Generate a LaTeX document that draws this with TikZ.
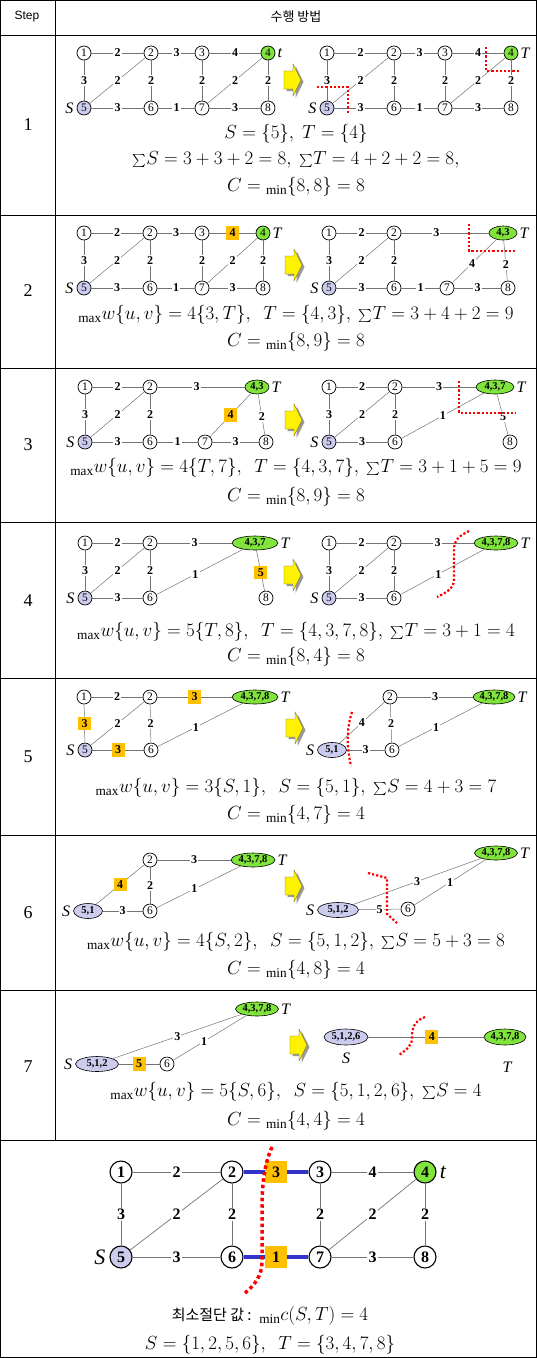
\RequirePackage{fix-cm}
\documentclass[tikz,border=0pt]{standalone}
\usepackage{fontspec}
\setmainfont{Liberation Serif}
\newfontfamily\kr{Noto Sans CJK KR}
\newfontfamily\hsans{Liberation Sans}
\usetikzlibrary{shapes.geometric}
\definecolor{lav}{RGB}{204,204,238}
\definecolor{grn}{RGB}{128,228,60}
\definecolor{orb}{RGB}{255,192,0}
\definecolor{cutblue}{RGB}{51,51,204}
\newcommand\bsum{\mathord{\raisebox{-0.12em}{\scalebox{1.3}{$\sum$}}}}
\newcommand\blkarr[2]{\begin{scope}[shift={(#1,#2)}]
 \fill[black!40] (-5.5,-7) -- (3.5,-7) -- (3.5,-14) -- (11.5,2) -- (3.5,18) -- (3.5,11) -- (-5.5,11) -- cycle;
 \filldraw[fill=yellow,draw=olive!70!black,line width=0.4pt] (-8,-9) -- (1,-9) -- (1,-16) -- (9,0) -- (1,16) -- (1,9) -- (-8,9) -- cycle;
\end{scope}}
\tikzset{
 v/.style={circle,draw,line width=0.7pt,fill=white,minimum size=14pt,inner sep=0pt,font=\fontsize{11.5}{10}\selectfont},
 vs/.style={v,fill=lav},
 vt/.style={v,fill=grn},
 el/.style={ellipse,draw,line width=0.6pt,fill=grn,inner sep=0pt,minimum height=14pt,font=\fontsize{10.5}{10}\selectfont\bfseries},
 els/.style={el,fill=lav},
 lab/.style={fill=white,inner sep=1.2pt,font=\fontsize{12}{10}\selectfont\bfseries},
 ob/.style={fill=orb,inner sep=0pt,minimum width=13pt,minimum height=13.5pt,font=\fontsize{12}{10}\selectfont\bfseries},
 e/.style={draw=black!55,line width=0.5pt},
 cut/.style={draw=red,line width=2.2pt,dash pattern=on 2.2pt off 2pt},
 st/.style={font=\fontsize{16}{16}\selectfont\itshape,inner sep=3pt},
 tx/.style={font=\fontsize{19}{21}\selectfont,inner sep=0pt},
 num/.style={font=\fontsize{18}{18}\selectfont},
 big/.style={circle,draw,line width=1.1pt,fill=white,minimum size=22pt,inner sep=0pt,font=\fontsize{16}{16}\selectfont\bfseries},
 blab/.style={fill=white,inner sep=1.5pt,font=\fontsize{16}{16}\selectfont\bfseries},
 bob/.style={fill=orb,inner sep=0pt,minimum size=22pt,font=\fontsize{16}{16}\selectfont\bfseries},
}
\begin{document}
\begin{tikzpicture}[x=1pt,y=-1pt]
\useasboundingbox (0,0) rectangle (537,1358);
% table
\draw[line width=0.8pt] (0.5,0.5) rectangle (536.5,1357.5);
\draw[line width=0.8pt] (55,0.5) -- (55,1140);
\foreach \yy in {35,215,368,522,678,835,990,1140} \draw[line width=0.8pt] (0.5,\yy) -- (536.5,\yy);
\node[font=\hsans\fontsize{12}{12}\selectfont] (hstep) at (27,17) {Step};
\node[font=\kr\fontsize{13}{13}\selectfont] (hmeth) at (296,17) {수행 방법};
\node[num] (n1) at (28,125) {1};
\node[num] (n2) at (28,291) {2};
\node[num] (n3) at (28,445) {3};
\node[num] (n4) at (28,601) {4};
\node[num] (n5) at (28,757) {5};
\node[num] (n6) at (28,913) {6};
\node[num] (n7) at (28,1067) {7};

% ===== Step 1 left
\node[v] (A1) at (84,53) {1};
\node[v] (A2) at (151,53) {2};
\node[v] (A3) at (202,53) {3};
\node[vt] (A4) at (268,53) {4};
\node[vs] (A5) at (84,108) {5};
\node[v] (A6) at (151,108) {6};
\node[v] (A7) at (202,108) {7};
\node[v] (A8) at (268,108) {8};
\node[st,anchor=west,inner sep=2pt] (At) at (A4.east) {t};
\node[st,anchor=east] (AS) at (A5.west) {S};
\draw[e] (A1) -- node[lab]{2} (A2) -- node[lab]{3} (A3) -- node[lab]{4} (A4);
\draw[e] (A5) -- node[lab]{3} (A6) -- node[lab]{1} (A7) -- node[lab]{3} (A8);
\draw[e] (A1) -- node[lab]{3} (A5);
\draw[e] (A5) -- node[lab]{2} (A2);
\draw[e] (A2) -- node[lab]{2} (A6);
\draw[e] (A3) -- node[lab]{2} (A7);
\draw[e] (A7) -- node[lab]{2} (A4);
\draw[e] (A4) -- node[lab]{2} (A8);
\blkarr{292}{80}
% Step 1 right
\node[v] (B1) at (327,53) {1};
\node[v] (B2) at (394,53) {2};
\node[v] (B3) at (445,53) {3};
\node[vt] (B4) at (511,53) {4};
\node[vs] (B5) at (327,108) {5};
\node[v] (B6) at (394,108) {6};
\node[v] (B7) at (445,108) {7};
\node[v] (B8) at (511,108) {8};
\node[st,anchor=west,inner sep=2pt] (BT) at (B4.east) {T};
\node[st,anchor=east] (BS) at (B5.west) {S};
\draw[e] (B1) -- node[lab]{2} (B2) -- node[lab]{3} (B3) -- node[lab]{4} (B4);
\draw[e] (B5) -- node[lab]{3} (B6) -- node[lab]{1} (B7) -- node[lab]{3} (B8);
\draw[e] (B1) -- node[lab]{3} (B5);
\draw[e] (B5) -- node[lab]{2} (B2);
\draw[e] (B2) -- node[lab]{2} (B6);
\draw[e] (B3) -- node[lab]{2} (B7);
\draw[e] (B7) -- node[lab]{2} (B4);
\draw[e] (B4) -- node[lab]{2} (B8);
\draw[cut] (317,87) -- (348,87) -- (348,114);
\draw[cut] (486,47) -- (486,71) -- (519,71);
\node[tx] (t1a) at (296,134) {$S=\{5\},\ T=\{4\}$};
\node[tx] (t1b) at (296,160) {$\bsum S=3+3+2=8,\ \bsum T=4+2+2=8,$};
\node[tx] (t1c) at (296,187) {$C={}_{\min}\{8,8\}=8$};

% ===== Step 2 left
\node[v] (C1) at (84,233) {1};
\node[v] (C2) at (150,233) {2};
\node[v] (C3) at (202,233) {3};
\node[vt] (C4) at (263,233) {4};
\node[vs] (C5) at (84,288) {5};
\node[v] (C6) at (150,288) {6};
\node[v] (C7) at (202,288) {7};
\node[v] (C8) at (263,288) {8};
\node[st,anchor=west,inner sep=2pt] (CT) at (C4.east) {T};
\node[st,anchor=east] (CS) at (C5.west) {S};
\draw[e] (C1) -- node[lab]{2} (C2) -- node[lab]{3} (C3) -- node[ob]{4} (C4);
\draw[e] (C5) -- node[lab]{3} (C6) -- node[lab]{1} (C7) -- node[lab]{3} (C8);
\draw[e] (C1) -- node[lab]{3} (C5);
\draw[e] (C5) -- node[lab]{2} (C2);
\draw[e] (C2) -- node[lab]{2} (C6);
\draw[e] (C3) -- node[lab]{2} (C7);
\draw[e] (C7) -- node[lab]{2} (C4);
\draw[e] (C4) -- node[lab]{2} (C8);
\blkarr{293}{265}
% Step 2 right
\node[v] (D1) at (329,233) {1};
\node[v] (D2) at (394,233) {2};
\node[el,minimum width=28pt] (D43) at (503,233) {4,3};
\node[vs] (D5) at (329,288) {5};
\node[v] (D6) at (394,288) {6};
\node[v] (D7) at (447,288) {7};
\node[v] (D8) at (508,288) {8};
\node[st,anchor=west,inner sep=2pt] (DT) at (D43.east) {T};
\node[st,anchor=east] (DS) at (D5.west) {S};
\draw[e] (D1) -- node[lab]{2} (D2) -- node[lab,pos=0.4]{3} (D43);
\draw[e] (D5) -- node[lab]{3} (D6) -- node[lab]{1} (D7) -- node[lab]{3} (D8);
\draw[e] (D1) -- node[lab]{3} (D5);
\draw[e] (D5) -- node[lab]{2} (D2);
\draw[e] (D2) -- node[lab]{2} (D6);
\draw[e] (D7) -- node[lab,pos=0.45]{4} (D43);
\draw[e] (D43) -- node[lab,pos=0.6]{2} (D8);
\draw[cut] (469,224) -- (469,251) -- (515,251);
\node[tx] (t2a) at (296,315) {${}_{\max}w\{u,v\}=4\{3,T\},\ \ T=\{4,3\},\ \bsum T=3+4+2=9$};
\node[tx] (t2b) at (296,342) {$C={}_{\min}\{8,9\}=8$};

% ===== Step 3 left
\node[v] (E1) at (85,387) {1};
\node[v] (E2) at (150,387) {2};
\node[el,minimum width=24pt] (E43) at (257,387) {4,3};
\node[vs] (E5) at (85,442) {5};
\node[v] (E6) at (150,442) {6};
\node[v] (E7) at (205,442) {7};
\node[v] (E8) at (266,442) {8};
\node[st,anchor=west,inner sep=2pt] (ET) at (E43.east) {T};
\node[st,anchor=east] (ES) at (E5.west) {S};
\draw[e] (E1) -- node[lab]{2} (E2) -- node[lab,pos=0.45]{3} (E43);
\draw[e] (E5) -- node[lab]{3} (E6) -- node[lab]{1} (E7) -- node[lab]{3} (E8);
\draw[e] (E1) -- node[lab]{3} (E5);
\draw[e] (E5) -- node[lab]{2} (E2);
\draw[e] (E2) -- node[lab]{2} (E6);
\draw[e] (E7) -- node[ob]{4} (E43);
\draw[e] (E43) -- node[lab,pos=0.55]{2} (E8);
\blkarr{293}{420}
% Step 3 right
\node[v] (F1) at (329,387) {1};
\node[v] (F2) at (395,387) {2};
\node[el,minimum width=38pt] (F437) at (495,387) {4,3,7};
\node[vs] (F5) at (329,442) {5};
\node[v] (F6) at (395,442) {6};
\node[v] (F8) at (510,442) {8};
\node[st,anchor=west,inner sep=2pt] (FT) at (F437.east) {T};
\node[st,anchor=east] (FS) at (F5.west) {S};
\draw[e] (F1) -- node[lab]{2} (F2) -- node[lab,pos=0.5]{3} (F437);
\draw[e] (F5) -- node[lab]{3} (F6);
\draw[e] (F1) -- node[lab]{3} (F5);
\draw[e] (F5) -- node[lab]{2} (F2);
\draw[e] (F2) -- node[lab]{2} (F6);
\draw[e] (F6) -- node[lab]{1} (F437);
\draw[e] (F437) -- node[lab,pos=0.55]{5} (F8);
\draw[cut] (459,381) -- (459,413) -- (516,413);
\node[tx] (t3a) at (296,468) {${}_{\max}w\{u,v\}=4\{T,7\},\ \ T=\{4,3,7\},\ \bsum T=3+1+5=9$};
\node[tx] (t3b) at (296,497) {$C={}_{\min}\{8,9\}=8$};

% ===== Step 4 left
\node[v] (G1) at (85,543) {1};
\node[v] (G2) at (150,543) {2};
\node[el,minimum width=46pt] (G437) at (255,543) {4,3,7};
\node[vs] (G5) at (85,598) {5};
\node[v] (G6) at (150,598) {6};
\node[v] (G8) at (266,598) {8};
\node[st,anchor=west,inner sep=2pt] (GT) at (G437.east) {T};
\node[st,anchor=east] (GS) at (G5.west) {S};
\draw[e] (G1) -- node[lab]{2} (G2) -- node[lab,pos=0.5]{3} (G437);
\draw[e] (G5) -- node[lab]{3} (G6);
\draw[e] (G1) -- node[lab]{3} (G5);
\draw[e] (G5) -- node[lab]{2} (G2);
\draw[e] (G2) -- node[lab]{2} (G6);
\draw[e] (G6) -- node[lab,pos=0.45]{1} (G437);
\draw[e] (G437) -- node[ob,pos=0.55]{5} (G8);
\blkarr{292}{575}
% Step 4 right
\node[v] (H1) at (329,543) {1};
\node[v] (H2) at (394,543) {2};
\node[el,minimum width=44pt] (H4378) at (496,543) {4,3,7,8};
\node[vs] (H5) at (329,598) {5};
\node[v] (H6) at (394,598) {6};
\node[st,anchor=west,inner sep=2pt] (HT) at (H4378.east) {T};
\node[st,anchor=east] (HS) at (H5.west) {S};
\draw[e] (H1) -- node[lab]{2} (H2) -- node[lab,pos=0.5]{3} (H4378);
\draw[e] (H5) -- node[lab]{3} (H6);
\draw[e] (H1) -- node[lab]{3} (H5);
\draw[e] (H5) -- node[lab]{2} (H2);
\draw[e] (H2) -- node[lab]{2} (H6);
\draw[e] (H6) -- node[lab,pos=0.45]{1} (H4378);
\draw[cut] (469,531) .. controls (459,536) and (454,540) .. (454,550) -- (454,580) .. controls (454,588) and (446,593) .. (437,597);
\node[tx] (t4a) at (296,632) {${}_{\max}w\{u,v\}=5\{T,8\},\ \ T=\{4,3,7,8\},\ \bsum T=3+1=4$};
\node[tx] (t4b) at (296,657) {$C={}_{\min}\{8,4\}=8$};

% ===== Step 5 left
\node[v] (I1) at (84,697) {1};
\node[v] (I2) at (150,697) {2};
\node[el,minimum width=46pt] (I4378) at (255,697) {4,3,7,8};
\node[vs] (I5) at (85,750) {5};
\node[v] (I6) at (151,750) {6};
\node[st,anchor=west,inner sep=2pt] (IT) at (I4378.east) {T};
\node[st,anchor=east] (IS) at (I5.west) {S};
\draw[e] (I1) -- node[lab]{2} (I2) -- node[ob,pos=0.5]{3} (I4378);
\draw[e] (I5) -- node[ob]{3} (I6);
\draw[e] (I1) -- node[ob]{3} (I5);
\draw[e] (I5) -- node[lab]{2} (I2);
\draw[e] (I2) -- node[lab]{2} (I6);
\draw[e] (I6) -- node[lab,pos=0.45]{1} (I4378);
\blkarr{294}{728}
% Step 5 right
\node[v] (J2) at (390,697) {2};
\node[el,minimum width=42pt] (J4378) at (494,697) {4,3,7,8};
\node[els,minimum width=29pt,minimum height=15pt] (J51) at (332,750) {5,1};
\node[v] (J6) at (392,750) {6};
\node[st,anchor=west,inner sep=2pt] (JT) at (J4378.east) {T};
\node[st,anchor=east] (JS) at (J51.west) {S};
\draw[e] (J51) -- node[lab]{4} (J2);
\draw[e] (J2) -- node[lab]{3} (J4378);
\draw[e] (J2) -- node[lab]{2} (J6);
\draw[e] (J6) -- node[lab,pos=0.45]{1} (J4378);
\draw[e] (J51) -- node[lab]{3} (J6);
\draw[cut] (352,712) .. controls (346,730) and (347,748) .. (351,766);
\node[tx] (t5a) at (296,788) {${}_{\max}w\{u,v\}=3\{S,1\},\ \ S=\{5,1\},\ \bsum S=4+3=7$};
\node[tx] (t5b) at (296,815) {$C={}_{\min}\{4,7\}=4$};

% ===== Step 6 left
\node[v] (K2) at (150,860) {2};
\node[el,minimum width=44pt] (K4378) at (253,860) {4,3,7,8};
\node[els,minimum width=29pt,minimum height=15pt] (K51) at (88,911) {5,1};
\node[v] (K6) at (150,911) {6};
\node[st,anchor=west,inner sep=2pt] (KT) at (K4378.east) {T};
\node[st,anchor=east] (KS) at (K51.west) {S};
\draw[e] (K51) -- node[ob]{4} (K2);
\draw[e] (K2) -- node[lab]{3} (K4378);
\draw[e] (K2) -- node[lab]{2} (K6);
\draw[e] (K6) -- node[lab,pos=0.45]{1} (K4378);
\draw[e] (K51) -- node[lab]{3} (K6);
\blkarr{293}{886}
% Step 6 right
\node[el,minimum width=43pt] (L4378) at (496,853) {4,3,7,8};
\node[els,minimum width=41pt,minimum height=15pt] (L512) at (338,910) {5,1,2};
\node[v] (L6) at (408,909) {6};
\node[st,anchor=west,inner sep=2pt] (LT) at (L4378.east) {T};
\node[st,anchor=east] (LS) at (L512.west) {S};
\draw[e] (L512) -- node[lab]{3} (L4378);
\draw[e] (L512) -- node[lab]{5} (L6);
\draw[e] (L6) -- node[lab]{1} (L4378);
\draw[cut] (368,873) -- (387,878) -- (387,914) -- (397,923);
\node[tx] (t6a) at (296,942) {${}_{\max}w\{u,v\}=4\{S,2\},\ \ S=\{5,1,2\},\ \bsum S=5+3=8$};
\node[tx] (t6b) at (296,970) {$C={}_{\min}\{4,8\}=4$};

% ===== Step 7 left
\node[el,minimum width=43pt] (M4378) at (257,1009) {4,3,7,8};
\node[els,minimum width=43pt,minimum height=15pt] (M512) at (97,1064) {5,1,2};
\node[v] (M6) at (167,1064) {6};
\node[st,anchor=west,inner sep=2pt] (MT) at (M4378.east) {T};
\node[st,anchor=east] (MS) at (M512.west) {S};
\draw[e] (M512) -- node[lab]{3} (M4378);
\draw[e] (M512) -- node[ob]{5} (M6);
\draw[e] (M6) -- node[lab,pos=0.42]{1} (M4378);
\blkarr{298}{1045}
% Step 7 right
\node[els,minimum width=44pt,minimum height=16pt] (N5126) at (346,1037) {5,1,2,6};
\node[el,minimum width=42pt,minimum height=16pt] (N4378) at (505,1037) {4,3,7,8};
\node[st] (NS) at (346,1058) {S};
\node[st] (NT) at (507,1067) {T};
\draw[e] (N5126) -- node[ob,pos=0.55]{4} (N4378);
\draw[cut] (425,1017) .. controls (414,1021) and (412,1028) .. (412,1038) .. controls (412,1046) and (406,1050) .. (399,1055);
\node[tx] (t7a) at (296,1092) {${}_{\max}w\{u,v\}=5\{S,6\},\ \ S=\{5,1,2,6\},\ \bsum S=4$};
\node[tx] (t7b) at (296,1121) {$C={}_{\min}\{4,4\}=4$};

% ===== Final
\node[big] (P1) at (121,1172) {1};
\node[big] (P2) at (232,1172) {2};
\node[big] (P3) at (320,1172) {3};
\node[big,fill=grn] (P4) at (425,1172) {4};
\node[big,fill=lav] (P5) at (121,1257) {5};
\node[big] (P6) at (232,1257) {6};
\node[big] (P7) at (320,1257) {7};
\node[big] (P8) at (425,1257) {8};
\node[font=\fontsize{22}{22}\selectfont\itshape,anchor=west,inner sep=3pt] (Pt) at (P4.east) {t};
\node[font=\fontsize{22}{22}\selectfont\itshape,anchor=east,inner sep=4pt] (PS) at (P5.west) {S};
\draw[e,line width=0.7pt] (P1) -- node[blab]{2} (P2);
\draw[draw=cutblue,line width=3.5pt] (P2) -- node[bob,pos=0.5]{3} (P3);
\draw[e,line width=0.7pt] (P3) -- node[blab]{4} (P4);
\draw[e,line width=0.7pt] (P5) -- node[blab]{3} (P6);
\draw[draw=cutblue,line width=3.5pt] (P6) -- node[bob,pos=0.5]{1} (P7);
\draw[e,line width=0.7pt] (P7) -- node[blab]{3} (P8);
\draw[e,line width=0.7pt] (P1) -- node[blab]{3} (P5);
\draw[e,line width=0.7pt] (P5) -- node[blab]{2} (P2);
\draw[e,line width=0.7pt] (P2) -- node[blab]{2} (P6);
\draw[e,line width=0.7pt] (P3) -- node[blab]{2} (P7);
\draw[e,line width=0.7pt] (P7) -- node[blab]{2} (P4);
\draw[e,line width=0.7pt] (P4) -- node[blab]{2} (P8);
\draw[draw=red,line width=3.5pt,dash pattern=on 3.5pt off 3pt] (272,1147) .. controls (264,1165) and (262,1185) .. (262,1210) -- (262,1262) .. controls (262,1275) and (255,1285) .. (245,1293);
\node[tx] (tfa) at (270,1316) {{\kr\fontsize{15}{15}\selectfont 최소절단 값 : }$\,{}_{\min}c(S,T)=4$};
\node[tx] (tfb) at (270,1345) {$S=\{1,2,5,6\},\ \ T=\{3,4,7,8\}$};
\end{tikzpicture}
\end{document}
